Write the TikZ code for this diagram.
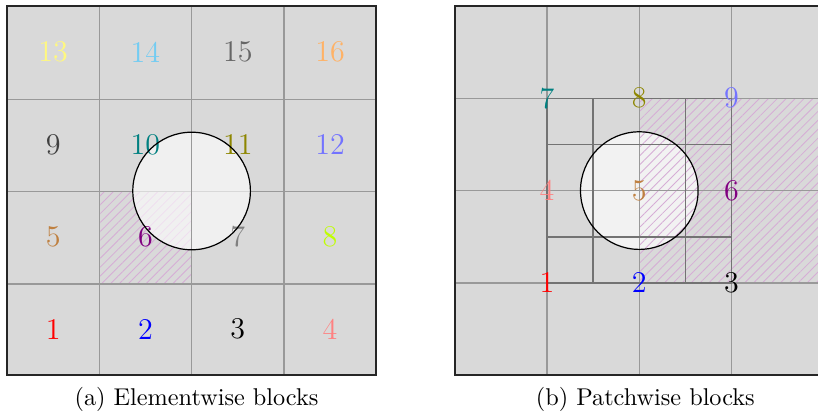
\documentclass[tikz,border=0pt]{standalone}
\usetikzlibrary{patterns.meta}
\definecolor{numA}{rgb}{0.45,0.8,0.95}
\begin{document}
\begin{tikzpicture}[x=0.4122pt,y=-0.4122pt,
  bgfill/.style={fill=black!15},
  gridline/.style={draw=black!40,line width=0.65pt},
  subline/.style={draw=black!55,line width=0.65pt},
  frame/.style={draw=black!85,line width=0.8pt},
  hatch/.style={pattern={Lines[angle=45,distance=2.6pt,line width=0.35pt]},pattern color=violet!32},
  hole/.style={fill=black!5},
  veil/.style={fill=white,fill opacity=0.62},
  holeline/.style={draw=black,line width=0.5pt},
  num/.style={inner sep=0pt,font=\fontsize{12.4}{14}\selectfont},
  captext/.style={inner sep=0pt,anchor=base,font=\fontsize{10}{12}\selectfont}]
\useasboundingbox (0,0) rectangle (818,412);
\clip (0,0) rectangle (818,412);
% ---------- left panel ----------
\fill[bgfill] (7,6) rectangle (376.2,375.2);
\fill[hatch] (99.3,191.6) rectangle (191.6,283.9);
\foreach \v in {99.3,191.6,283.9}{
  \draw[gridline] (7,\v) -- (376.2,\v);
}
\fill[veil] (191.6,191) circle (58.8);
\foreach \v in {99.3,191.6,283.9}{
  \draw[gridline] (\v,6) -- (\v,375.2);
}
\draw[frame] (7,6) rectangle (376.2,375.2);
\node[num,text=red]        (a1)  at (53.15,329.05) {1};
\node[num,text=blue]       (a2)  at (145.45,329.05) {2};
\node[num,text=black]      (a3)  at (237.75,329.05) {3};
\node[num,text=red!50]     (a4)  at (330.05,329.05) {4};
\node[num,text=brown]      (a5)  at (53.15,236.75) {5};
\node[num,text=violet]     (a6)  at (145.45,236.75) {6};
\node[num,text=gray]       (a7)  at (237.75,236.75) {7};
\node[num,text=lime]       (a8)  at (330.05,236.75) {8};
\node[num,text=darkgray]   (a9)  at (53.15,144.45) {9};
\node[num,text=teal]       (a10) at (145.45,144.45) {10};
\node[num,text=olive]      (a11) at (237.75,144.45) {11};
\node[num,text=blue!55]    (a12) at (330.05,144.45) {12};
\node[num,text=yellow!50]  (a13) at (53.15,52.15) {13};
\node[num,text=numA]       (a14) at (145.45,52.15) {14};
\node[num,text=black!60]   (a15) at (237.75,52.15) {15};
\node[num,text=orange!60]  (a16) at (330.05,52.15) {16};
\draw[holeline] (191.6,191) circle (58.8);
\node[captext] (capa) at (196.5,406) {(a) Elementwise blocks};
% ---------- right panel ----------
\fill[bgfill] (454.7,6) rectangle (823.9,375.2);
\fill[hole] (639.3,190.6) circle (58.8);
\fill[hatch] (639.3,98.3) rectangle (823.9,282.9);
\foreach \v in {547,639.3,731.6}{
  \draw[gridline] (\v,6) -- (\v,375.2);
}
\foreach \v in {98.3,190.6,282.9}{
  \draw[gridline] (454.7,\v) -- (823.9,\v);
}
\foreach \v in {593.15,685.45}{
  \draw[subline] (\v,98.3) -- (\v,282.9);
}
\foreach \v in {144.45,236.75}{
  \draw[subline] (547,\v) -- (731.6,\v);
}
\draw[subline] (547,98.3) rectangle (731.6,282.9);
\draw[frame] (454.7,6) rectangle (823.9,375.2);
\node[num,text=red]      (b1) at (547,282.9) {1};
\node[num,text=blue]     (b2) at (639.3,282.9) {2};
\node[num,text=black]    (b3) at (731.6,282.9) {3};
\node[num,text=red!50]   (b4) at (547,190.6) {4};
\node[num,text=brown]    (b5) at (639.3,190.6) {5};
\node[num,text=violet]   (b6) at (731.6,190.6) {6};
\node[num,text=teal]     (b7) at (547,98.3) {7};
\node[num,text=olive]    (b8) at (639.3,98.3) {8};
\node[num,text=blue!55]  (b9) at (731.6,98.3) {9};
\draw[holeline] (639.3,190.6) circle (58.8);
\node[captext] (capb) at (645.3,406) {(b) Patchwise blocks};
\end{tikzpicture}
\end{document}
